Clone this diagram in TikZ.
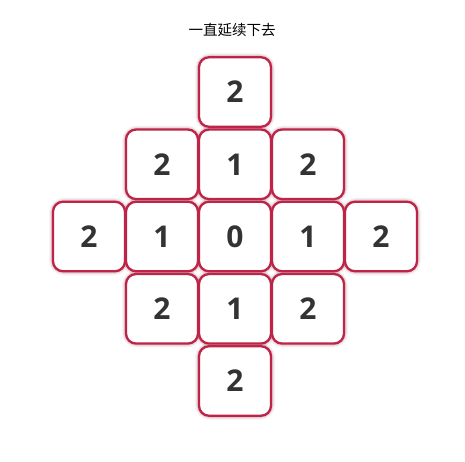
\documentclass[tikz,border=0pt]{standalone}
\usepackage{fontspec}
\setmainfont{Open Sans}
\newfontfamily\cjk{Noto Sans CJK SC}
\definecolor{crim}{HTML}{BE2448}
\definecolor{glow}{HTML}{A06070}
\definecolor{digit}{HTML}{333333}
\begin{document}
\begin{tikzpicture}[x=1pt,y=-1pt,
  cellbox/.style={draw=crim, line width=2.3pt, fill=white, rounded corners=10pt,
    minimum width=72pt, minimum height=69.5pt, inner sep=0pt,
    font=\fontsize{30}{30}\selectfont\bfseries, text=digit},
  glowbox/.style={draw=glow, rounded corners=11pt, minimum width=72pt, minimum height=69.5pt, inner sep=0pt}]
\useasboundingbox (0,0) rectangle (465,462);
\fill[white] (0,0) rectangle (465,462);
\node[font=\cjk\fontsize{14.5}{14.5}\selectfont] (title) at (232,30) {一直延续下去};
% glow layers
\foreach \x/\y in {235/92, 162/164.3, 235/164.3, 308/164.3, 89/236.5, 162/236.5, 235/236.5, 308/236.5, 381/236.5, 162/308.8, 235/308.8, 308/308.8, 235/381}{
  \node[glowbox, line width=8pt, draw opacity=0.07] at (\x,\y) {};
  \node[glowbox, line width=6pt, draw opacity=0.10] at (\x,\y) {};
  \node[glowbox, line width=4pt, draw opacity=0.18] at (\x,\y) {};
}
\node[cellbox] (a) at (235,92) {2};
\node[cellbox] (b1) at (162,164.3) {2};
\node[cellbox] (b2) at (235,164.3) {1};
\node[cellbox] (b3) at (308,164.3) {2};
\node[cellbox] (c1) at (89,236.5) {2};
\node[cellbox] (c2) at (162,236.5) {1};
\node[cellbox] (c3) at (235,236.5) {0};
\node[cellbox] (c4) at (308,236.5) {1};
\node[cellbox] (c5) at (381,236.5) {2};
\node[cellbox] (d1) at (162,308.8) {2};
\node[cellbox] (d2) at (235,308.8) {1};
\node[cellbox] (d3) at (308,308.8) {2};
\node[cellbox] (e) at (235,381) {2};
\end{tikzpicture}
\end{document}
